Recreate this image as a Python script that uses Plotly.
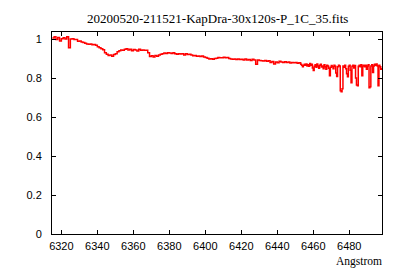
import plotly.graph_objects as go

# Integer-step part (6315..6452 A) and half-step part (6453..6498 A)
wavelength_a = list(range(6315, 6453))
flux_a = [
    1.005, 1.012, 0.998, 1.008, 0.990, 1.002, 1.006, 1.000, 1.012, 0.955,
    1.000, 1.002, 0.998, 0.997, 0.988, 0.990, 0.985, 0.982, 0.978, 0.975,
    0.973, 0.975, 0.970, 0.972, 0.968, 0.960, 0.955, 0.950, 0.945, 0.930,
    0.922, 0.915, 0.918, 0.912, 0.920, 0.925, 0.935, 0.940, 0.944, 0.942,
    0.948, 0.950, 0.944, 0.948, 0.940, 0.946, 0.944, 0.938, 0.948, 0.942,
    0.944, 0.942, 0.942, 0.930, 0.910, 0.914, 0.908, 0.915, 0.912, 0.918,
    0.922, 0.925, 0.928, 0.926, 0.930, 0.928, 0.926, 0.929, 0.924, 0.922,
    0.925, 0.923, 0.924, 0.918, 0.924, 0.921, 0.922, 0.918, 0.914, 0.916,
    0.912, 0.913, 0.910, 0.913, 0.908, 0.905, 0.902, 0.897, 0.899, 0.896,
    0.900, 0.902, 0.905, 0.904, 0.904, 0.906, 0.904, 0.905, 0.900, 0.897,
    0.896, 0.897, 0.895, 0.897, 0.895, 0.896, 0.893, 0.897, 0.893, 0.895,
    0.890, 0.896, 0.892, 0.870, 0.892, 0.890, 0.889, 0.887, 0.890, 0.886,
    0.888, 0.880, 0.885, 0.872, 0.882, 0.878, 0.886, 0.882, 0.880, 0.884,
    0.880, 0.882, 0.877, 0.880, 0.878, 0.880, 0.876, 0.878,
]
wavelength_b = [k / 2 for k in range(12906, 12997)]
flux_b = [
    0.870, 0.866, 0.858, 0.865, 0.870, 0.866, 0.872, 0.862, 0.868, 0.860,
    0.875, 0.866, 0.870, 0.852, 0.838, 0.860, 0.868, 0.855, 0.872, 0.862,
    0.850, 0.866, 0.870, 0.856, 0.862, 0.848, 0.868, 0.858, 0.845, 0.865,
    0.862, 0.850, 0.812, 0.855, 0.864, 0.858, 0.848, 0.866, 0.860, 0.826,
    0.808, 0.858, 0.866, 0.862, 0.735, 0.730, 0.745, 0.862, 0.855, 0.866,
    0.848, 0.822, 0.807, 0.860, 0.866, 0.840, 0.776, 0.860, 0.866, 0.852,
    0.864, 0.800, 0.764, 0.760, 0.860, 0.866, 0.858, 0.868, 0.812, 0.862,
    0.866, 0.858, 0.866, 0.845, 0.862, 0.868, 0.750, 0.755, 0.862, 0.868,
    0.828, 0.862, 0.870, 0.866, 0.872, 0.862, 0.760, 0.865, 0.858, 0.845,
    0.852,
]
x_ticks = [6320, 6340, 6360, 6380, 6400, 6420, 6440, 6460, 6480]
y_ticks = [0, 0.2, 0.4, 0.6, 0.8, 1]
y_tick_labels = ["0", "0.2", "0.4", "0.6", "0.8", "1"]
title_text = "20200520-211521-KapDra-30x120s-P_1C_35.fits"
x_label = "Angstrom"

fig = go.Figure()
fig.add_trace(go.Scatter(
    x=wavelength_a + wavelength_b, y=flux_a + flux_b, mode="lines", line_shape="hv",
    line=dict(color="#ff0000", width=1.5), showlegend=False,
))

axis_common = dict(
    showline=True, linecolor="black", linewidth=1, mirror="ticks",
    ticks="inside", ticklen=4, tickcolor="black", showgrid=False,
    zeroline=False, tickfont=dict(family="Liberation Sans", size=11, color="black"),
)
fig.update_xaxes(range=[6314.8, 6498.2], tickvals=x_ticks,
                 ticklabelstandoff=2, **axis_common)
fig.update_yaxes(range=[0, 1.036], tickvals=y_ticks, ticktext=y_tick_labels,
                 ticklabelstandoff=7, **axis_common)

fig.update_layout(
    width=400, height=280,
    margin=dict(l=52, r=18, t=32, b=46),
    paper_bgcolor="white", plot_bgcolor="white",
    annotations=[
        dict(text=title_text, xref="paper", yref="paper", x=0.5,
             y=1 + 13 / 202, xanchor="center", yanchor="middle", showarrow=False,
             font=dict(family="Liberation Serif", size=13, color="black")),
        dict(text=x_label, xref="paper", yref="paper", x=1.005,
             y=-27 / 202, xanchor="right", yanchor="middle", showarrow=False,
             font=dict(family="Liberation Serif", size=11.5, color="black")),
    ],
)

fig.write_html("out.html")
